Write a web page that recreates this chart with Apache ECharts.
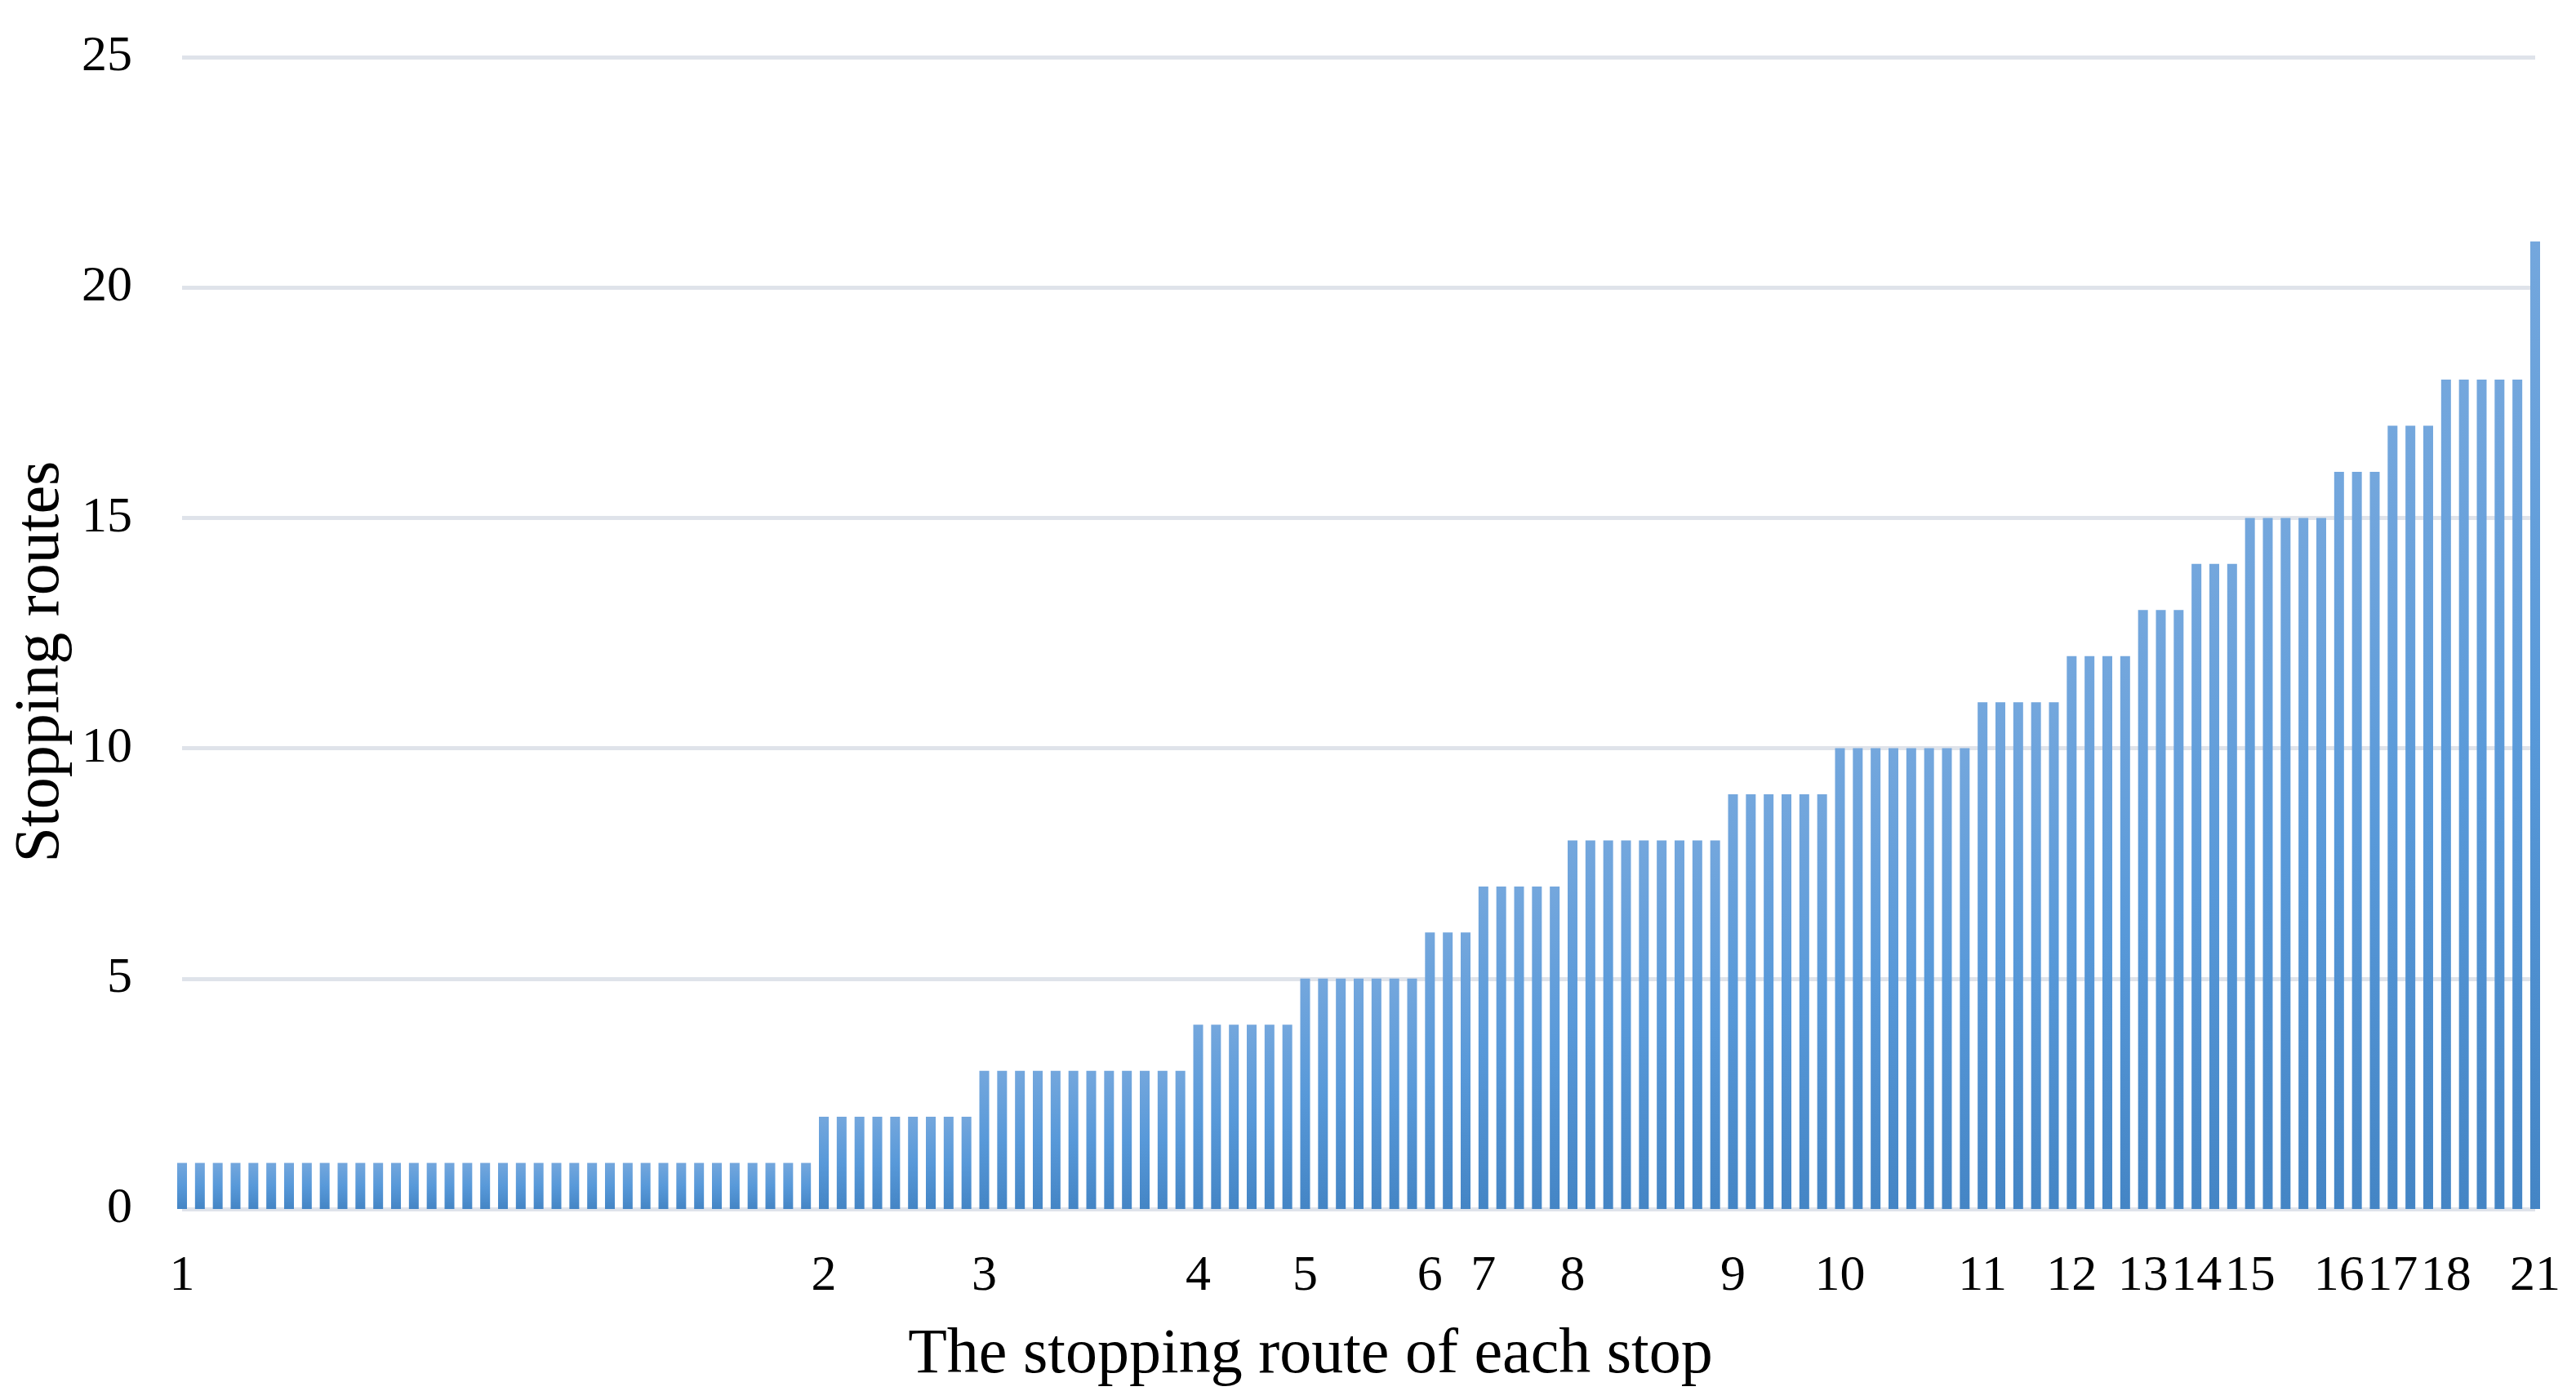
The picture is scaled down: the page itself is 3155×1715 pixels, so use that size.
<!DOCTYPE html>
<html>
<head>
<meta charset="utf-8">
<script src="https://cdn.jsdelivr.net/npm/echarts@6/dist/echarts.min.js"></script>
<style>
  html, body { margin: 0; padding: 0; background: #ffffff; }
  #chart { width: 3155px; height: 1715px; }
</style>
</head>
<body>
<div id="chart"></div>
<script>
// Number of stopping routes at a stop (each group value) and how many stops have it
const stopValues = [1, 2, 3, 4, 5, 6, 7, 8, 9, 10, 11, 12, 13, 14, 15, 16, 17, 18, 21];
const stopCounts = [36, 9, 12, 6, 7, 3, 5, 9, 6, 8, 5, 4, 3, 3, 5, 3, 3, 5, 1];
const yTicks = [0, 5, 10, 15, 20, 25];
const xTitle = 'The stopping route of each stop';
const yTitle = 'Stopping routes';

// Build one bar per stop; the tick label shows the value at the first stop of each group
const barValues = [];
const categories = [];
const tickLabels = [];
stopValues.forEach((v, gi) => {
  for (let k = 0; k < stopCounts[gi]; k++) {
    barValues.push(v);
    categories.push(String(categories.length + 1));
    tickLabels.push(k === 0 ? String(v) : '');
  }
});

const chart = echarts.init(document.getElementById('chart'), null, { renderer: 'canvas' });
const serif = '"Liberation Serif", "Times New Roman", serif';

chart.setOption({
  animation: false,
  backgroundColor: '#ffffff',
  grid: {
    left: 223, right: 50, top: 70, bottom: 234,
    containLabel: false,
    outerBoundsMode: 'none'
  },
  xAxis: {
    type: 'category',
    data: categories,
    boundaryGap: false,
    axisLine: { show: false },
    axisTick: { show: false },
    axisLabel: {
      interval: 0,
      margin: 52,
      fontFamily: serif,
      fontSize: 62,
      color: '#000000',
      formatter: (val, idx) => tickLabels[idx]
    },
    name: xTitle,
    nameLocation: 'middle',
    nameGap: 141,
    nameTextStyle: {
      fontFamily: serif,
      fontSize: 78,
      color: '#000000',
      padding: [0, 118, 0, 0]
    }
  },
  yAxis: {
    type: 'value',
    min: yTicks[0],
    max: yTicks[yTicks.length - 1],
    interval: 5,
    axisLine: { show: false },
    axisTick: { show: false },
    axisLabel: {
      margin: 61,
      fontFamily: serif,
      fontSize: 62,
      color: '#000000'
    },
    splitLine: {
      show: true,
      lineStyle: { color: '#DFE3EA', width: 5 }
    },
    name: yTitle,
    nameLocation: 'middle',
    nameGap: 127,
    nameTextStyle: {
      fontFamily: serif,
      fontSize: 78,
      color: '#000000',
      padding: [0, 70, 0, 0]
    }
  },
  series: [{
    type: 'bar',
    data: barValues,
    barWidth: 12,
    itemStyle: {
      color: new echarts.graphic.LinearGradient(0, 0, 0, 1, [
        { offset: 0, color: '#74A7DD' },
        { offset: 0.5, color: '#5899D9' },
        { offset: 1, color: '#4485C5' }
      ])
    }
  }]
});
</script>
</body>
</html>
